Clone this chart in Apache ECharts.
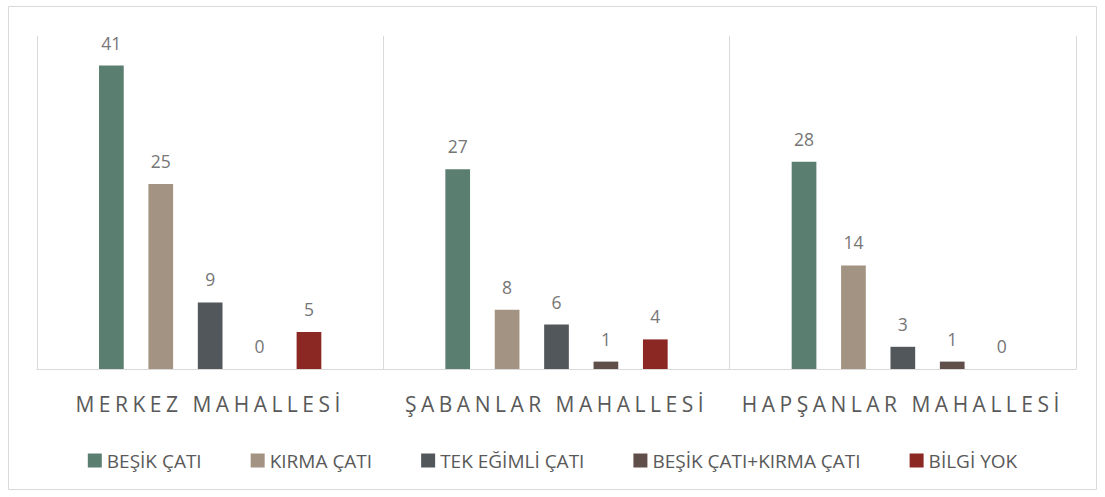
<!DOCTYPE html>
<html lang="tr">
<head>
  <meta charset="UTF-8">
  <title>Çatı tipleri</title>
  <script src="https://cdn.jsdelivr.net/npm/echarts@6/dist/echarts.min.js"></script>
  <style>
    body { margin: 0; background: #fff; }
    #main { width: 1105px; height: 497px; }
  </style>
</head>
<body>
  <div id="main"></div>
</body>
</html>
<script>
  const categories = ["MERKEZ MAHALLESİ", "ŞABANLAR MAHALLESİ", "HAPŞANLAR MAHALLESİ"];
  const seriesNames = ["BEŞİK ÇATI", "KIRMA ÇATI", "TEK EĞİMLİ ÇATI", "BEŞİK ÇATI+KIRMA ÇATI", "BİLGİ YOK"];
  const besik = [41, 27, 28];
  const kirma = [25, 8, 14];
  const tekEgimli = [9, 6, 3];
  const besikKirma = [0, 1, 1];
  const bilgiYok = [5, 4, 0];
  const colors = ["#5a7f70", "#a39382", "#52575b", "#604e4b", "#8b2824"];

  initChart();

  function initChart() {
    const values = [besik, kirma, tekEgimli, besikKirma, bilgiYok];
    let seriesData = values.map((vals, i) => ({
      name: seriesNames[i],
      type: "bar",
      data: vals,
      barWidth: 24.7,
      barGap: "100%",
      itemStyle: { color: colors[i] },
      label: {
        show: true,
        position: "top",
        distance: 14,
        color: "#767676",
        fontSize: 17.5,
        fontFamily: "Open Sans"
      }
    }));

    let myChart = echarts.init(document.getElementById("main"), null, { renderer: "svg" });
    let option = {
      animation: false,
      color: colors,
      grid: { left: 37, right: 29, top: 36, bottom: 128 },
      graphic: [{
        type: "rect",
        shape: { x: 8.5, y: 6.5, width: 1088, height: 483 },
        style: { fill: "none", stroke: "#d9d9d9", lineWidth: 1 },
        silent: true
      }],
      legend: {
        data: seriesNames,
        left: "center",
        top: 446,
        itemWidth: 14,
        itemHeight: 14,
        itemGap: 49,
        icon: "rect",
        textStyle: { color: "#595959", fontSize: 19, fontFamily: "Open Sans" }
      },
      xAxis: {
        type: "category",
        data: categories,
        axisLine: { lineStyle: { color: "#d9d9d9" } },
        axisTick: { show: false },
        splitLine: { show: true, lineStyle: { color: "#d9d9d9" } },
        axisLabel: {
          color: "#595959",
          fontSize: 21,
          fontFamily: "Open Sans",
          margin: 24
        }
      },
      yAxis: {
        type: "value",
        min: 0,
        max: 45,
        axisLine: { show: true, lineStyle: { color: "#d9d9d9" } },
        axisLabel: { show: false },
        axisTick: { show: false },
        splitLine: { show: false }
      },
      series: seriesData
    };
    myChart.setOption(option, true);

    // letter spacing on the category labels, as in the source
    document.querySelectorAll("#main text").forEach((t) => {
      if (categories.indexOf(t.textContent) >= 0) {
        t.setAttribute("letter-spacing", "4.5");
      }
    });
  }
</script>
